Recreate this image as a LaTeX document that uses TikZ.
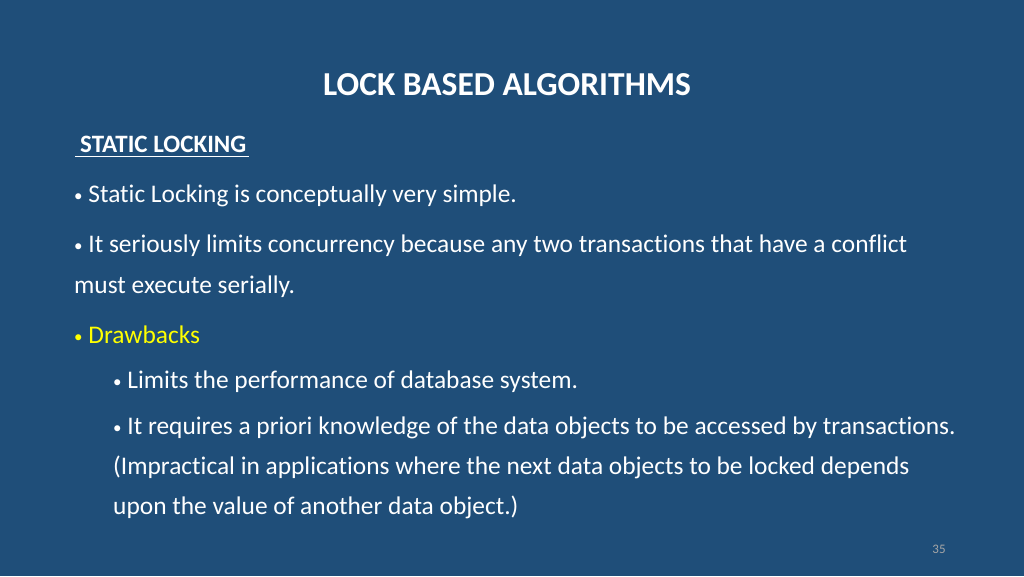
\documentclass[tikz,border=0pt]{standalone}
\usepackage{fontspec}
\setmainfont[Ligatures={NoCommon,NoRequired,NoContextual}]{Carlito}
\definecolor{bg}{HTML}{1F4E79}
\definecolor{yel}{HTML}{FFFF00}
\newcommand{\bul}{{\fontsize{17}{17}\selectfont\raisebox{1pt}{\textbullet}}\ }
\begin{document}
\begin{tikzpicture}[x=1pt,y=-1pt,
  txt/.style={anchor=base west,inner sep=0pt,text=white,font=\fontsize{25.4}{30}\selectfont},
  ]
\fill[bg] (0,0) rectangle (1024,576);
\useasboundingbox (0,0) rectangle (1024,576);
\node[txt,anchor=base,font=\bfseries\fontsize{33.5}{40}\selectfont] (title) at (507,95) {LOCK BASED ALGORITHMS};
\node[txt,font=\bfseries\fontsize{25}{30}\selectfont] (sl) at (80,152) {STATIC LOCKING};
\draw[white,line width=1pt] (75,156) -- (249,156);
\node[txt] (a) at (74,202) {\bul Static Locking is conceptually very simple.};
\node[txt] (b) at (74,252) {\bul It seriously limits concurrency because any two transactions that have a conflict};
\node[txt] (c) at (74,293) {must execute serially.};
\node[txt,text=yel] (d) at (74,343) {\bul Drawbacks};
\node[txt] (e) at (113,388) {\bul Limits the performance of database system.};
\node[txt] (f) at (113,434) {\bul It requires a priori knowledge of the data objects to be accessed by transactions.};
\node[txt] (g) at (113,474) {(Impractical in applications where the next data objects to be locked depends};
\node[txt] (h) at (113,514) {upon the value of another data object.)};
\node[txt,anchor=base,text=gray!70,font=\fontsize{13}{15}\selectfont] (n) at (939,553) {35};
\end{tikzpicture}
\end{document}
